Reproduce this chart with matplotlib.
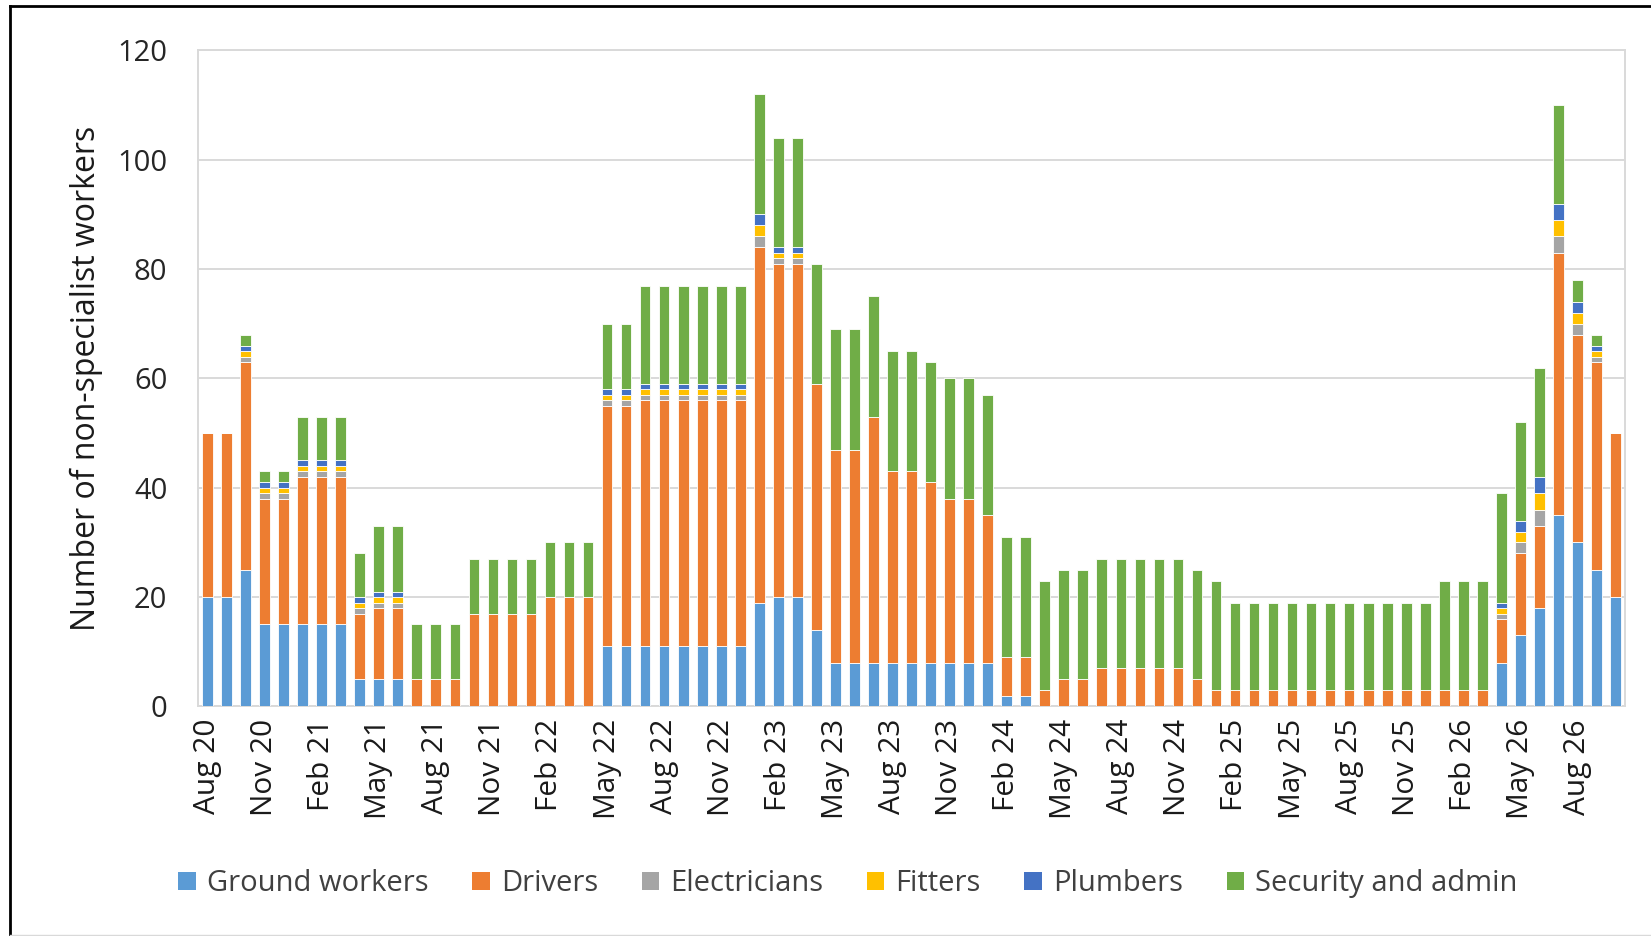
import numpy as np
import matplotlib
matplotlib.use("Agg")
import matplotlib.pyplot as plt
from matplotlib.patches import Patch
from matplotlib.lines import Line2D

plt.rcParams['font.family'] = ['Open Sans', 'DejaVu Sans']

# monthly columns, Aug 20 .. Oct 26
months = ["Jan", "Feb", "Mar", "Apr", "May", "Jun", "Jul", "Aug", "Sep", "Oct", "Nov", "Dec"]
month_labels = []
for i in range(75):
    m = (7 + i) % 12
    y = 20 + (7 + i) // 12
    month_labels.append(f"{months[m]} {y}")

ground = ([20, 20, 25, 15, 15, 15, 15, 15, 5, 5, 5] + [0] * 10 + [11] * 8 +
          [19, 20, 20, 14] + [8] * 9 + [2, 2] + [0] * 24 +
          [8, 13, 18, 35, 30, 25, 20])
drivers = ([30, 30, 38, 23, 23, 27, 27, 27, 12, 13, 13, 5, 5, 5, 17, 17, 17, 17, 20, 20, 20,
            44, 44, 45, 45, 45, 45, 45, 45, 65, 61, 61, 45, 39, 39, 45, 35, 35, 33, 30, 30, 27,
            7, 7, 3, 5, 5, 7, 7, 7, 7, 7, 5, 3] + [3] * 14 +
           [8, 15, 15, 48, 38, 38, 30])
trades = ([0, 0, 1, 1, 1, 1, 1, 1, 1, 1, 1] + [0] * 10 + [1] * 8 + [2, 1, 1] + [0] * 36 +
          [1, 2, 3, 3, 2, 1, 0])
electricians = trades
fitters = trades
plumbers = trades
security = ([0, 0, 2, 2, 2, 8, 8, 8, 8, 12, 12, 10, 10, 10, 10, 10, 10, 10, 10, 10, 10,
             12, 12, 18, 18, 18, 18, 18, 18, 22, 20, 20, 22] + [22] * 9 + [22, 22] + [20] * 10 +
            [16] * 11 + [20, 20, 20, 20, 18, 20, 18, 4, 2, 0])

series = [
    ("Ground workers", ground, "#5B9BD5"),
    ("Drivers", drivers, "#ED7D31"),
    ("Electricians", electricians, "#A5A5A5"),
    ("Fitters", fitters, "#FFC000"),
    ("Plumbers", plumbers, "#4472C4"),
    ("Security and admin", security, "#70AD47"),
]

fig = plt.figure(figsize=(16.51, 9.36), dpi=100)
ax = fig.add_axes([0.1199, 0.2452, 0.8644, 0.7009])

x = np.arange(len(month_labels))
bottom = np.zeros(len(month_labels))
for name, vals, col in series:
    vals = np.array(vals, dtype=float)
    ax.bar(x, vals, width=0.56, bottom=bottom, color=col, edgecolor="white",
           linewidth=0.6, label=name, zorder=3)
    bottom += vals

ax.set_xlim(-0.5, len(month_labels) - 0.5)
ax.set_ylim(0, 120)
ax.set_yticks(range(0, 121, 20))
ax.yaxis.grid(True, color="#D9D9D9", linewidth=1.4, zorder=0)
for s in ax.spines.values():
    s.set_color("#D9D9D9")
    s.set_linewidth(1.4)
ax.tick_params(axis="y", length=0, pad=22, labelsize=21, labelcolor="#262626")
ax.tick_params(axis="x", length=0, pad=9, labelsize=21.5, labelcolor="#1a1a1a")
ax.set_xticks(x[::3])
ax.set_xticklabels(month_labels[::3], rotation=90)

fig.text(0.0525, 0.5957, "Number of non-specialist workers", rotation=90,
         ha="center", va="center", fontsize=23, color="#1a1a1a")

handles = [Patch(facecolor=c, edgecolor="none") for _, _, c in series]
fig.legend(handles, [n for n, _, _ in series], loc="center", ncol=6,
           bbox_to_anchor=(0.5136, 0.0556), frameon=False, fontsize=21,
           handlelength=0.6, handleheight=0.6, handletextpad=0.38,
           columnspacing=1.5, labelcolor="#404040")

# chart border (black on left and top)
fig.add_artist(Line2D([0.0061, 0.0061], [0, 0.9936], color="black", linewidth=2,
                      transform=fig.transFigure))
fig.add_artist(Line2D([0.0061, 1], [0.9936, 0.9936], color="black", linewidth=2,
                      transform=fig.transFigure))
fig.add_artist(Line2D([0.0061, 1], [0.0015, 0.0015], color="#D9D9D9", linewidth=1,
                      transform=fig.transFigure))

fig.savefig("out.png", dpi=100)
